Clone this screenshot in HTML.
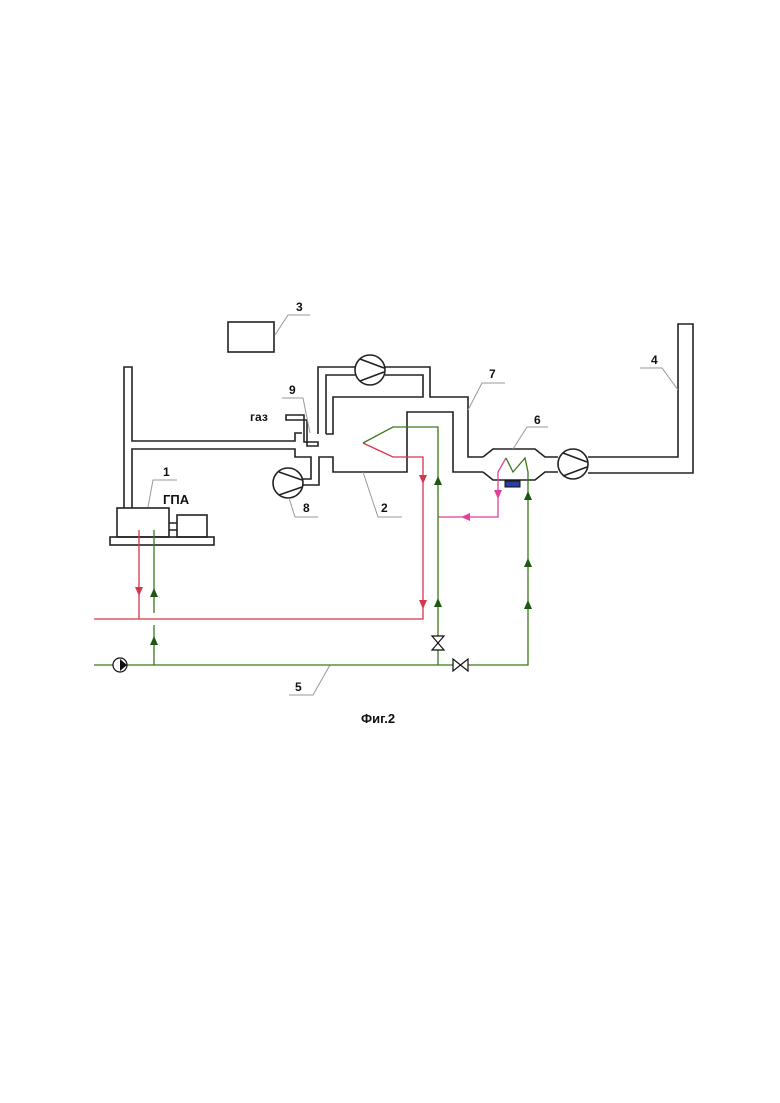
<!DOCTYPE html>
<html><head><meta charset="utf-8"><style>
html,body{margin:0;padding:0;background:#fff;}
svg{display:block;}
text{font-family:"Liberation Sans",sans-serif;font-weight:bold;font-size:12px;fill:#111;}
</style></head><body>
<svg width="780" height="1103" viewBox="0 0 780 1103" xmlns="http://www.w3.org/2000/svg">
<defs>
<marker id="ag" viewBox="0 0 10 10" refX="5" refY="5" markerWidth="5" markerHeight="7" orient="auto"><path d="M0,0 L10,5 L0,10 z" fill="#1d5a10"/></marker>
</defs>
<g fill="none" stroke="#222" stroke-width="1.6">
<!-- box 3 -->
<rect x="228" y="322" width="46" height="30"/>
<!-- left stack -->
<path d="M124,508 V367 H132 V441 H295 V433 H302"/>
<path d="M132,508 V449 H295 V457 H311 V479 H303"/>
<!-- gas pipe -->
<path d="M286,415 H304 V442 H318 V446 H307 V420 H286 Z"/>
<!-- chamber duct to fan -->
<path d="M318,434 V367 H355"/>
<path d="M385,367 H430 V397 H468 V457 H483"/>
<path d="M326,434 V375 H355"/>
<path d="M385,375 H423 V397 H333 V434 H326"/>
<circle cx="370" cy="370" r="15"/>
<path d="M360,359 L384,368 M360,381 L384,372"/>
<!-- fan 8 connections -->
<path d="M303,485 H319 V457 H333 V472 H407 V412 H453 V472 H483"/>
<circle cx="288" cy="483" r="15"/>
<path d="M279,472 L302,480 M279,495 L302,487"/>
<!-- heat exchanger 6 -->
<path d="M483,457 L493,449 H535 L545,457 H558"/>
<path d="M483,472 L493,480 H535 L545,472 H558"/>
<circle cx="573" cy="464" r="15"/>
<path d="M563,453 L587,462 M563,476 L587,467"/>
<!-- chimney 4 -->
<path d="M588,457 H678 V324 H693 V473 H588"/>
<!-- GPA -->
<rect x="117" y="508" width="52" height="29"/>
<rect x="110" y="537" width="104" height="8"/>
<rect x="177" y="515" width="30" height="22"/>
<path d="M169,523 H177 M169,530 H177"/>
</g>
<rect x="505" y="481" width="15" height="6" fill="#2a3fa0" stroke="#111" stroke-width="1"/>
<!-- leaders -->
<g fill="none" stroke="#999" stroke-width="1">
<path d="M275,335 L288,315 H310"/>
<path d="M678,390 L662,368 H640"/>
<path d="M468,410 L482,383 H505"/>
<path d="M513,449 L527,427 H548"/>
<path d="M310,433 L303,398 H282"/>
<path d="M289,498 L295,517 H318"/>
<path d="M363,472 L378,517 H402"/>
<path d="M148,507 L153,480 H177"/>
<path d="M330,665 L313,695 H289"/>
</g>
<!-- red lines -->
<g fill="none" stroke="#d8344a" stroke-width="1.3">
<path d="M363,443 L393,457 H423 V619 H94"/>
<path d="M139,530 V619"/>
</g>
<g fill="#d8344a">
<path d="M135,587 H143 L139,596 Z"/>
<path d="M419,475 H427 L423,484 Z"/>
<path d="M419,600 H427 L423,609 Z"/>
</g>
<!-- pink -->
<g fill="none" stroke="#e0409a" stroke-width="1.3">
<path d="M506,458 L498,472 V517 H438"/>
</g>
<g fill="#e0409a">
<path d="M494,490 H502 L498,499 Z"/>
<path d="M470,513 V521 L461,517 Z"/>
</g>
<!-- green -->
<g fill="none" stroke="#3a7a1a" stroke-width="1.3">
<path d="M363,443 L393,427 H438 V665"/>
<path d="M506,458 L513,472 L525,458 L528,472 V665 H94"/>
<path d="M154,665 V625 M154,613 V530"/>
</g>
<g fill="#1d5a10">
<path d="M150,597 H158 L154,588 Z"/>
<path d="M150,645 H158 L154,636 Z"/>
<path d="M434,485 H442 L438,476 Z"/>
<path d="M434,607 H442 L438,598 Z"/>
<path d="M524,500 H532 L528,491 Z"/>
<path d="M524,567 H532 L528,558 Z"/>
<path d="M524,609 H532 L528,600 Z"/>
</g>
<!-- valves -->
<g fill="#fff" stroke="#111" stroke-width="1.2">
<path d="M432,636 H444 L432,650 H444 Z"/>
<path d="M453,659 V671 L468,659 V671 Z"/>
<circle cx="120" cy="665" r="7"/>
</g>
<path d="M120,659 L127,665 L120,671 Z" fill="#111"/>
<!-- labels -->
<text x="296" y="311">3</text>
<text x="651" y="364">4</text>
<text x="489" y="378">7</text>
<text x="534" y="424">6</text>
<text x="289" y="394">9</text>
<text x="250" y="421" style="font-size:12px">газ</text>
<text x="303" y="512">8</text>
<text x="381" y="512">2</text>
<text x="163" y="476">1</text>
<text x="163" y="504" style="font-size:13px">ГПА</text>
<text x="295" y="691">5</text>
<text x="361" y="723" style="font-size:13px">Фиг.2</text>
</svg>
</body></html>
